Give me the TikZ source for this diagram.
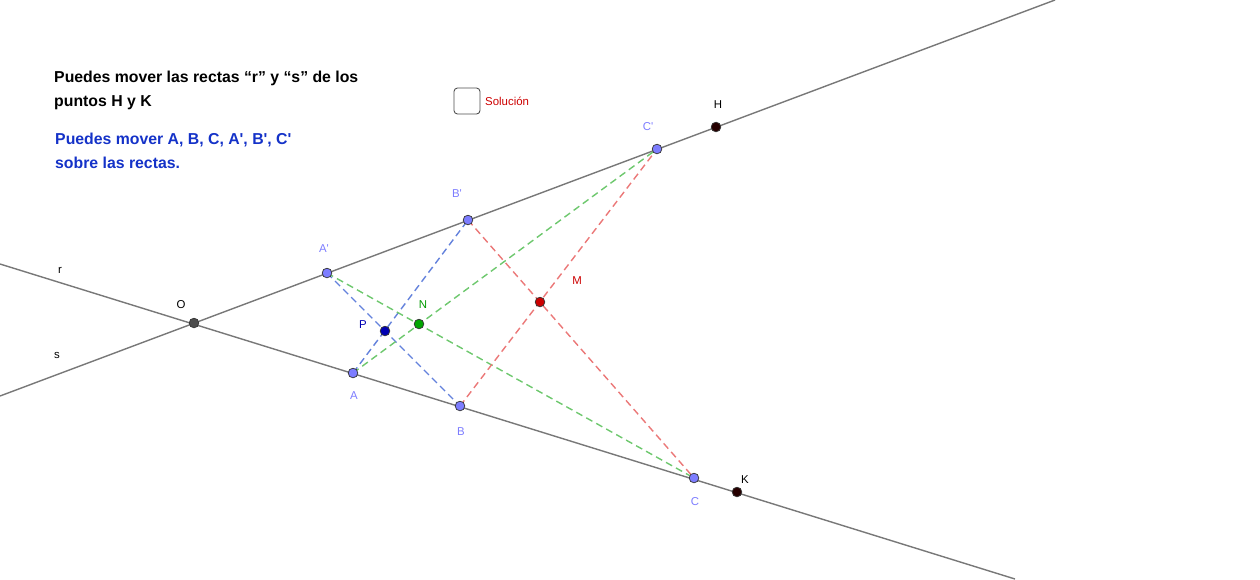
\documentclass[tikz,border=0pt]{standalone}
\usepackage{fontspec}
\setmainfont{Liberation Sans}
\usetikzlibrary{calc}
\definecolor{pt-blue}{RGB}{125, 125, 255}
\definecolor{ln-gray}{RGB}{120, 120, 120}
\definecolor{dsh-blue}{RGB}{100, 130, 220}
\definecolor{dsh-green}{RGB}{110, 200, 110}
\definecolor{dsh-red}{RGB}{235, 120, 120}
\definecolor{txt-blue}{RGB}{20, 50, 200}
\tikzset{
  pt/.style={circle, draw=black!80, fill=#1, inner sep=0pt, minimum size=5.5pt, line width=0.4pt},
  lbl/.style={font=\fontsize{6.5}{8}\selectfont},
  dsh/.style={dash pattern=on 4pt off 2.5pt, line width=0.8pt, #1}
}
\begin{document}
\begin{tikzpicture}[x=0.02cm, y=-0.02cm]
          \useasboundingbox (0, 0) rectangle (1260, 579);

          % lines r and s
          \coordinate (r-start) at (0, 264);
          \coordinate (r-end) at (1015, 579);
          \coordinate (s-start) at (0, 396);
          \coordinate (s-end) at (1055, 0);
          \draw[ln-gray, line width=0.8pt] (r-start) -- (r-end);
          \draw[ln-gray, line width=0.8pt] (s-start) -- (s-end);
          \node[lbl] () at (60, 270) {r};
          \node[lbl] () at (57, 355) {s};

          % points
          \coordinate (O) at (194, 323);
          \coordinate (H) at (716, 127);
          \coordinate (K) at (737, 492);
          \coordinate (A1) at (327, 273);
          \coordinate (B1) at (468, 220);
          \coordinate (C1) at (657, 149);
          \coordinate (A) at (353, 373);
          \coordinate (B) at (460, 406);
          \coordinate (C) at (694, 478);
          \coordinate (P) at (385, 331);
          \coordinate (N) at (419, 324);
          \coordinate (M) at (540, 302);

          \draw[dsh=dsh-blue] (A) -- (B1);
          \draw[dsh=dsh-blue] (A1) -- (B);
          \draw[dsh=dsh-green] (A1) -- (C);
          \draw[dsh=dsh-green] (A) -- (C1);
          \draw[dsh=dsh-red] (B) -- (C1);
          \draw[dsh=dsh-red] (B1) -- (C);

          \node[pt=black!70] (O-pt) at (O) {};
          \node[pt=black!85!red] (H-pt) at (H) {};
          \node[pt=black!85!red] (K-pt) at (K) {};
          \foreach \p in {A1, B1, C1, A, B, C}
            \node[pt=pt-blue] (\p-pt) at (\p) {};
          \node[pt=blue!70!black] (P-pt) at (P) {};
          \node[pt=green!65!black] (N-pt) at (N) {};
          \node[pt=red!80!black] (M-pt) at (M) {};

          \node[lbl] () at (181, 305) {O};
          \node[lbl] () at (718, 105) {H};
          \node[lbl] () at (745, 480) {K};
          \node[lbl, pt-blue] () at (324, 249) {A\textquotesingle};
          \node[lbl, pt-blue] () at (457, 194) {B\textquotesingle};
          \node[lbl, pt-blue] () at (648, 127) {C\textquotesingle};
          \node[lbl, pt-blue] () at (354, 396) {A};
          \node[lbl, pt-blue] () at (461, 432) {B};
          \node[lbl, pt-blue] () at (695, 502) {C};
          \node[lbl, blue!70!black] () at (363, 325) {P};
          \node[lbl, green!60!black] () at (423, 305) {N};
          \node[lbl, red!80!black] () at (577, 281) {M};

          % texts
          \node[anchor=north west, align=left, font=\bfseries\fontsize{9}{13.6}\selectfont] (note-1) at (48, 65)
            {Puedes mover las rectas “r” y “s” de los\\puntos H y K};
          \node[anchor=north west, align=left, txt-blue, font=\bfseries\fontsize{9}{13.6}\selectfont] (note-2) at (49, 127)
            {Puedes mover A, B, C, A\textquotesingle, B\textquotesingle, C\textquotesingle\\sobre las rectas.};
          \draw[black!70, rounded corners=2pt, line width=0.5pt] (454, 88) rectangle (480, 114);
          \node[lbl, anchor=west, red!80!black] (sol) at (479, 101) {Solución};
        \end{tikzpicture}
\end{document}
